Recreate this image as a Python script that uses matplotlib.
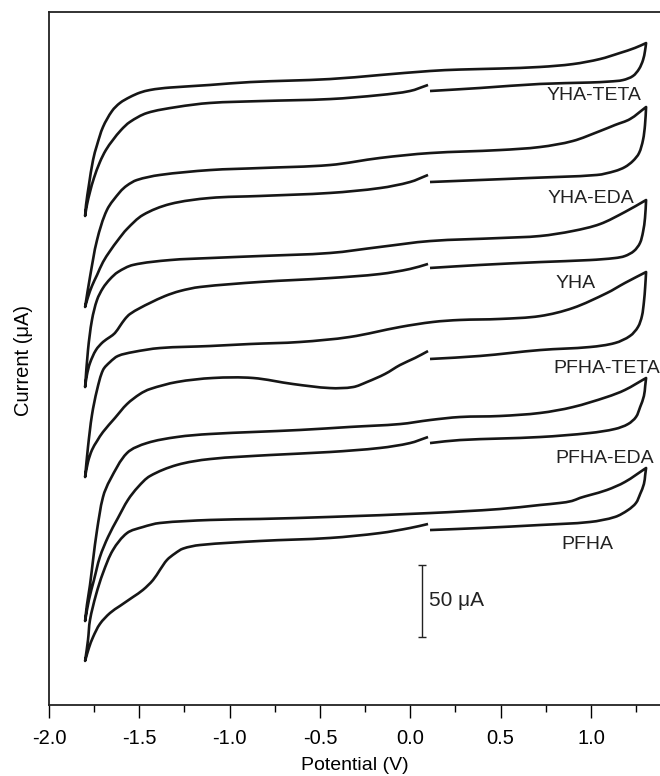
import numpy as np
import matplotlib
matplotlib.use('Agg')
import matplotlib.pyplot as plt
from matplotlib.path import Path
from matplotlib.patches import PathPatch
from matplotlib.ticker import MultipleLocator

plt.rcParams['font.family'] = ['Liberation Sans', 'DejaVu Sans']
plt.rcParams['axes.unicode_minus'] = False

# every loop starts near +0.1 V, sweeps up to +1.3 V, back down to -1.8 V
# and returns to ~+0.1 V; currents are stacked (offset) in uA
yha_teta_v = [0.109, 0.386, 0.718, 0.994, 1.105, 1.177, 1.232, 1.266, 1.288, 1.299, 1.305,
              1.243, 1.160, 1.050, 0.900, 0.718, 0.496, 0.275, 0.109, -0.168, -0.445, -0.887,
              -1.109, -1.330, -1.386, -1.441, -1.496, -1.552, -1.607, -1.651, -1.701, -1.734,
              -1.756, -1.779, -1.795, -1.800,
              -1.790, -1.773, -1.751, -1.718, -1.685, -1.646, -1.601, -1.552, -1.458, -1.292,
              -1.109, -0.832, -0.445, -0.168, -0.002, 0.098]
yha_teta_i = [426.4, 428.5, 431.3, 432.3, 433.0, 434.0, 436.8, 441.7, 447.9, 454.2, 459.7,
              456.3, 452.8, 448.6, 445.1, 443.1, 442.0, 441.3, 440.3, 437.5, 434.7, 432.6,
              430.6, 428.8, 428.1, 427.1, 425.3, 422.2, 418.1, 412.5, 401.4, 388.9,
              378.5, 361.1, 347.2, 339.6,
              347.2, 356.3, 366.0, 377.1, 385.4, 392.4, 399.3, 404.9, 411.1, 415.3,
              418.1, 419.4, 420.8, 423.6, 426.4, 430.6]

yha_eda_v = [0.109, 0.386, 0.662, 1.033, 1.133, 1.188, 1.232, 1.266, 1.288, 1.299, 1.305,
             1.216, 1.133, 1.050, 0.900, 0.718, 0.496, 0.109, -0.168, -0.445, -0.832, -1.109,
             -1.386, -1.513, -1.568, -1.607, -1.679, -1.734, -1.773, -1.800,
             -1.784, -1.762, -1.734, -1.701, -1.662, -1.618, -1.568, -1.480, -1.330, -1.109,
             -0.832, -0.445, -0.168, -0.002, 0.098]
yha_eda_i = [363.2, 364.6, 366.0, 368.1, 370.8, 373.6, 377.8, 383.3, 392.4, 402.8, 415.3,
             406.9, 402.8, 398.6, 391.7, 387.5, 385.4, 383.3, 379.9, 375.0, 372.9, 371.5,
             368.1, 364.6, 360.8, 356.3, 343.8, 322.9, 297.2, 276.4,
             283.3, 291.0, 298.6, 307.6, 315.3, 322.9, 330.6, 340.3, 347.9, 352.1,
             353.5, 355.6, 359.0, 363.2, 368.1]

yha_v = [0.109, 0.386, 0.718, 0.994, 1.133, 1.188, 1.238, 1.271, 1.288, 1.299, 1.305,
         1.188, 1.050, 0.900, 0.718, 0.496, 0.109, -0.168, -0.445, -0.832, -1.109, -1.330,
         -1.535, -1.618, -1.662, -1.701, -1.734, -1.762, -1.784, -1.800,
         -1.790, -1.773, -1.740, -1.701, -1.662, -1.635, -1.607, -1.579, -1.552, -1.496,
         -1.441, -1.358, -1.275, -1.164, -0.832, -0.445, -0.168, -0.002, 0.098]
yha_i = [303.5, 305.6, 307.6, 309.0, 310.4, 311.8, 315.3, 320.8, 328.5, 338.2, 350.7,
         342.4, 334.0, 329.2, 325.7, 324.3, 322.2, 318.1, 313.9, 311.8, 310.4, 309.0,
         305.6, 300.7, 295.8, 289.6, 281.3, 267.4, 246.5, 220.8,
         229.2, 237.5, 246.5, 252.1, 255.6, 258.3, 263.2, 268.1, 271.5, 275.7,
         279.2, 284.0, 287.5, 290.3, 293.8, 296.5, 299.3, 302.8, 306.3]

pfha_teta_v = [0.109, 0.386, 0.718, 0.994, 1.133, 1.216, 1.260, 1.282, 1.293, 1.300, 1.305,
               1.188, 1.088, 0.900, 0.718, 0.496, 0.275, 0.125, -0.057, -0.334, -0.611, -0.887,
               -1.109, -1.386, -1.535, -1.618, -1.662, -1.701, -1.734, -1.762, -1.784, -1.800,
               -1.784, -1.762, -1.734, -1.701, -1.635, -1.568, -1.496, -1.441, -1.292, -1.092,
               -0.871, -0.649, -0.445, -0.317, -0.240, -0.140, -0.057, 0.026, 0.098]
pfha_teta_i = [240.3, 242.4, 246.5, 248.6, 251.4, 256.3, 262.5, 270.1, 279.9, 290.3, 300.7,
               293.1, 286.1, 275.7, 270.1, 268.1, 267.4, 266.0, 262.5, 255.6, 252.1, 250.7,
               249.3, 247.9, 245.1, 242.4, 238.2, 232.6, 218.8, 201.4, 179.2, 158.3,
               168.8, 177.1, 183.3, 189.6, 199.3, 209.0, 216.0, 219.4, 224.3, 227.1,
               227.1, 222.9, 220.1, 220.8, 224.3, 229.9, 236.1, 241.0, 245.8]

pfha_eda_v = [0.109, 0.275, 0.718, 0.994, 1.133, 1.205, 1.249, 1.272, 1.293, 1.300, 1.305,
              1.188, 1.088, 0.900, 0.718, 0.496, 0.275, 0.109, -0.057, -0.334, -0.611, -1.109,
              -1.292, -1.458, -1.568, -1.662, -1.701, -1.734, -1.756, -1.773, -1.790, -1.800,
              -1.779, -1.751, -1.718, -1.673, -1.618, -1.563, -1.507, -1.441, -1.292, -1.109,
              -0.777, -0.445, -0.168, -0.002, 0.098]
pfha_eda_i = [181.9, 184.0, 186.1, 188.9, 191.7, 195.1, 200.0, 206.9, 214.6, 221.5, 227.1,
              218.8, 213.9, 206.9, 202.8, 200.7, 200.0, 197.9, 195.1, 193.1, 191.0, 188.2,
              186.1, 181.9, 175.0, 156.3, 144.4, 121.5, 100.7, 83.3, 69.4, 58.3,
              72.9, 86.8, 102.8, 116.7, 129.9, 142.4, 151.4, 159.0, 166.7, 170.8,
              173.6, 175.7, 178.5, 181.9, 186.1]

pfha_v = [0.109, 0.386, 0.718, 0.994, 1.133, 1.205, 1.249, 1.272, 1.293, 1.300, 1.305,
          1.188, 1.088, 0.994, 0.939, 0.895, 0.828, 0.718, 0.496, 0.109, -0.445, -0.832,
          -1.109, -1.386, -1.480, -1.568, -1.646, -1.701, -1.740, -1.773, -1.784, -1.800,
          -1.779, -1.756, -1.718, -1.662, -1.607, -1.535, -1.480, -1.424, -1.386, -1.347,
          -1.303, -1.258, -1.164, -0.832, -0.445, -0.168, -0.002, 0.098]
pfha_i = [121.5, 122.9, 125.0, 127.1, 130.6, 135.4, 140.3, 146.5, 153.5, 159.7, 164.6,
          154.9, 149.3, 145.8, 143.8, 141.7, 140.3, 138.9, 136.1, 133.3, 130.6, 129.2,
          128.5, 126.4, 123.6, 119.4, 107.6, 91.7, 76.4, 59.0, 45.1, 30.6,
          39.6, 47.2, 56.3, 63.9, 68.8, 75.0, 79.9, 86.8, 93.8, 100.7,
          105.2, 108.6, 111.1, 113.9, 116.0, 119.4, 122.9, 125.7]

curves = [(yha_teta_v, yha_teta_i), (yha_eda_v, yha_eda_i), (yha_v, yha_i),
          (pfha_teta_v, pfha_teta_i), (pfha_eda_v, pfha_eda_i), (pfha_v, pfha_i)]
names = ['YHA-TETA', 'YHA-EDA', 'YHA', 'PFHA-TETA', 'PFHA-EDA', 'PFHA']
name_x = [1.017, 1.000, 0.914, 1.086, 1.077, 0.978]
name_y = [423.6, 351.7, 292.7, 233.7, 171.2, 111.5]

scale_bar = 50  # uA


def cv_path(v, i, sx, sy):
    # spline-connected loop (chord-scaled Catmull-Rom), sharp at the two switching potentials
    pts = np.column_stack([v, i])
    k_hi = int(np.argmax(v))
    k_lo = int(np.argmin(v))
    verts = [pts[0]]
    codes = [Path.MOVETO]
    for a, b in [(0, k_hi), (k_hi, k_lo), (k_lo, len(pts) - 1)]:
        seg = pts[a:b + 1]
        ext = np.vstack([seg[0], seg, seg[-1]])
        d = np.hypot(np.diff(ext[:, 0]) * sx, np.diff(ext[:, 1]) * sy)
        for j in range(len(seg) - 1):
            p0, p1, p2, p3 = ext[j], ext[j + 1], ext[j + 2], ext[j + 3]
            d0, d1, d2 = d[j], d[j + 1], d[j + 2]
            c1 = p1 + (p2 - p0) * d1 / (3 * (d0 + d1))
            c2 = p2 - (p3 - p1) * d1 / (3 * (d1 + d2))
            verts += [c1, c2, p2]
            codes += [Path.CURVE4] * 3
    return Path(verts, codes)


def main():
    fig = plt.figure(figsize=(6.6, 7.76), dpi=100)
    ax = fig.add_axes([0.0742, 0.0915, 0.9258, 0.8930])
    ax.set_xlim(-2.0, 1.382)
    ax.set_ylim(0, 481.25)

    # pixels per volt and per uA, so the spline sees the real on-screen shape
    bbox = ax.get_window_extent()
    sx = bbox.width / (1.382 + 2.0)
    sy = bbox.height / 481.25

    for v, i in curves:
        ax.add_patch(PathPatch(cv_path(v, i, sx, sy), fill=False, ec='#161616', lw=1.9,
                               joinstyle='round', capstyle='butt'))

    for name, x, y in zip(names, name_x, name_y):
        ax.text(x, y, name, fontsize=14, ha='center', va='center', color='#222222')

    # 50 uA scale bar
    ax.errorbar([0.065], [72.2], yerr=[scale_bar / 2], color='#222222',
                lw=1.0, capsize=3, capthick=1.0)
    ax.text(0.103, 72.9, '50 \u03bcA', fontsize=15, ha='left', va='center',
            color='#222222')

    ax.xaxis.set_major_locator(MultipleLocator(0.5))
    ax.xaxis.set_minor_locator(MultipleLocator(0.25))
    ax.set_xticks([-2.0, -1.5, -1.0, -0.5, 0.0, 0.5, 1.0])
    ax.set_xticklabels(['-2.0', '-1.5', '-1.0', '-0.5', '0.0', '0.5', '1.0'])
    ax.set_yticks([])
    ax.tick_params(axis='x', which='major', length=9.5, width=1.0, pad=7.5,
                   labelsize=14.5, direction='out')
    ax.tick_params(axis='x', which='minor', length=5, width=1.0, direction='out')
    ax.spines['right'].set_visible(False)
    for s in ['left', 'top', 'bottom']:
        ax.spines[s].set_linewidth(1.3)
        ax.spines[s].set_color('#222222')

    ax.set_xlabel('Potential (V)', fontsize=14, labelpad=7)
    fig.text(0.036, 0.536, 'Current (\u03bcA)', fontsize=14.5, rotation=90,
             ha='center', va='center')

    fig.savefig('out.png', dpi=100)


if __name__ == '__main__':
    main()
